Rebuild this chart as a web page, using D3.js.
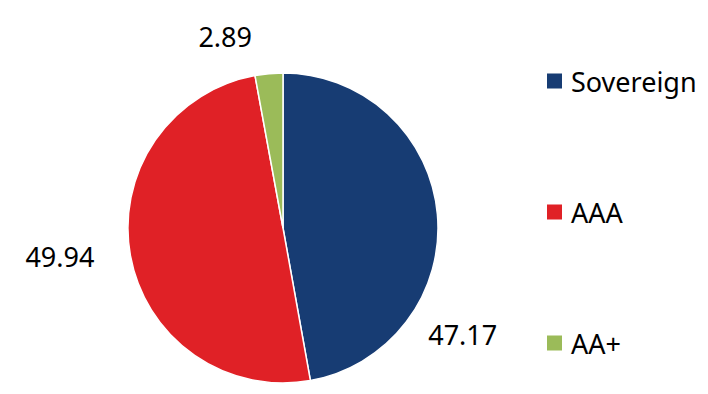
<!DOCTYPE html>
<html>
<head>
<meta charset="utf-8">
<script src="https://cdn.jsdelivr.net/npm/d3@7"></script>
<style>
  html, body { margin: 0; padding: 0; background: #fff; }
  svg { display: block; font-family: "Noto Sans", "Open Sans", sans-serif; }
</style>
</head>
<body>
<div id="chart"></div>
<script>
// Rating mix pie: slices run clockwise from 12 o'clock in the order given.
const categories = ["Sovereign", "AAA", "AA+"];
const values = [47.17, 49.94, 2.89];
const colors = ["#173c73", "#e02126", "#9bbb59"];

const W = 708, H = 394;
const cx = 283, cy = 228, R = 155;

// Excel's "best fit" labels don't sit on the mid angle; nudge each (deg, radius).
const labelNudge = [{ da: 35.8, r: 209 }, { da: 2.9, r: 225 }, { da: -11.6, r: 200 }];

const svg = d3.select("#chart").append("svg")
  .attr("width", W).attr("height", H)
  .attr("viewBox", `0 0 ${W} ${H}`);

const data = categories.map((c, i) => ({ cat: c, v: values[i], color: colors[i] }));
const pie = d3.pie().sort(null).value((d) => d.v);
const arcs = pie(data);
const arc = d3.arc().innerRadius(0).outerRadius(R);

const g = svg.append("g").attr("transform", `translate(${cx},${cy})`);
g.selectAll("path").data(arcs).join("path")
  .attr("d", arc)
  .attr("fill", (d) => d.data.color)
  .attr("stroke", "#fff")
  .attr("stroke-width", 1.5);

g.selectAll("text.lbl").data(arcs).join("text")
  .attr("class", "lbl")
  .attr("x", (d, i) => {
    const a = (d.startAngle + d.endAngle) / 2 + labelNudge[i].da * Math.PI / 180;
    return labelNudge[i].r * Math.sin(a);
  })
  .attr("y", (d, i) => {
    const a = (d.startAngle + d.endAngle) / 2 + labelNudge[i].da * Math.PI / 180;
    return -labelNudge[i].r * Math.cos(a);
  })
  .attr("text-anchor", "middle")
  .attr("dominant-baseline", "central")
  .attr("font-size", 27)
  .attr("fill", "#000")
  .text((d) => d.data.v.toFixed(2));

// Legend, rows spread evenly down the right side.
const ly = d3.scalePoint().domain(categories).range([81, 343]);
const leg = svg.append("g").attr("transform", "translate(547,0)");
const row = leg.selectAll("g").data(data).join("g")
  .attr("transform", (d) => `translate(0,${ly(d.cat)})`);
row.append("rect").attr("x", 0).attr("y", -7.5).attr("width", 15).attr("height", 15)
  .attr("fill", (d) => d.color);
row.append("text").attr("x", 24).attr("dominant-baseline", "central")
  .attr("font-size", 27).attr("fill", "#000")
  .text((d) => d.cat);
</script>
</body>
</html>
